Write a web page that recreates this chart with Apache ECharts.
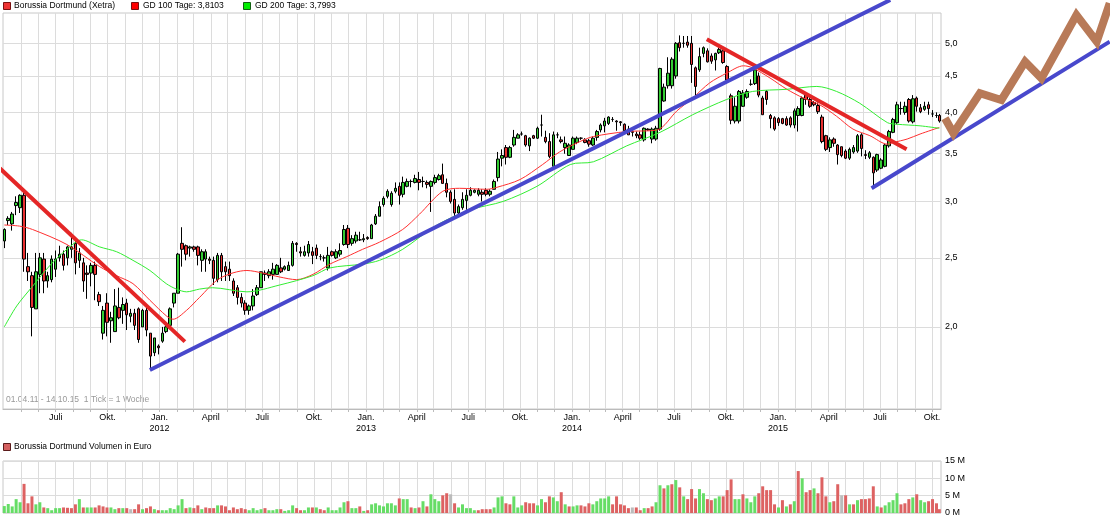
<!DOCTYPE html>
<html><head><meta charset="utf-8">
<script src="https://cdn.jsdelivr.net/npm/echarts@6.0.0/dist/echarts.min.js"></script>
<style>html,body{margin:0;padding:0;background:#fff}#c{width:1110px;height:522px}</style>
</head><body><div id="c"></div><script>
// ---- data ----
const firstWeek = '2011-04-01';   // weekly candles (week ending Friday)
const lastDay = '2015-10-14';     // last (partial) week
const ohlc = [ // [open, close, low, high]
[2.64,2.74,2.58,2.75],[2.82,2.84,2.78,2.86],[2.79,2.88,2.73,2.90],[2.96,2.99,2.87,3.05],[2.94,3.06,2.89,3.07],[3.06,2.49,2.39,3.12],[2.43,2.39,2.32,2.54],[2.36,2.13,1.94,2.39],[2.12,2.39,2.12,2.54],[2.37,2.50,2.23,2.54],
[2.49,2.32,2.23,2.54],[2.32,2.36,2.27,2.39],[2.33,2.49,2.31,2.52],[2.41,2.49,2.35,2.56],[2.50,2.53,2.47,2.60],[2.53,2.44,2.40,2.56],[2.50,2.59,2.44,2.60],[2.57,2.59,2.50,2.71],[2.62,2.46,2.37,2.67],[2.48,2.54,2.42,2.58],
[2.46,2.32,2.24,2.50],[2.38,2.37,2.19,2.44],[2.38,2.44,2.28,2.46],[2.44,2.37,2.18,2.47],[2.22,2.17,2.14,2.24],[1.96,2.11,1.92,2.14],[2.16,2.03,1.94,2.23],[2.04,2.06,1.90,2.10],[1.97,2.14,1.97,2.26],[2.13,2.06,2.05,2.27],
[2.11,2.15,2.02,2.20],[2.16,2.08,1.98,2.19],[2.07,2.09,2.03,2.12],[2.09,2.01,1.98,2.12],[2.12,1.92,1.90,2.13],[2.00,2.11,2.00,2.12],[2.11,1.98,1.94,2.13],[1.96,1.82,1.74,1.96],[1.84,1.93,1.82,1.93],[1.88,1.87,1.83,1.89],
[1.91,1.96,1.90,2.00],[1.97,2.00,1.96,2.02],[2.01,2.12,2.00,2.13],[2.16,2.23,2.13,2.23],[2.23,2.53,2.23,2.54],[2.62,2.57,2.43,2.76],[2.60,2.53,2.48,2.61],[2.58,2.59,2.51,2.60],[2.59,2.57,2.55,2.60],[2.59,2.52,2.44,2.60],
[2.48,2.55,2.39,2.57],[2.49,2.55,2.39,2.57],[2.49,2.48,2.45,2.51],[2.48,2.34,2.29,2.51],[2.33,2.52,2.31,2.54],[2.52,2.39,2.32,2.54],[2.43,2.39,2.32,2.47],[2.41,2.36,2.32,2.47],[2.32,2.23,2.21,2.34],[2.27,2.20,2.15,2.29],
[2.20,2.16,2.13,2.23],[2.16,2.11,2.08,2.18],[2.11,2.14,2.08,2.15],[2.14,2.21,2.11,2.26],[2.22,2.27,2.21,2.29],[2.27,2.39,2.27,2.39],[2.38,2.37,2.32,2.40],[2.36,2.39,2.34,2.41],[2.37,2.41,2.33,2.46],[2.37,2.44,2.37,2.45],
[2.42,2.39,2.38,2.50],[2.41,2.43,2.40,2.44],[2.40,2.44,2.40,2.47],[2.44,2.62,2.43,2.64],[2.62,2.61,2.55,2.63],[2.55,2.54,2.51,2.59],[2.52,2.55,2.51,2.60],[2.54,2.61,2.51,2.64],[2.55,2.52,2.45,2.59],[2.58,2.52,2.49,2.61],
[2.51,2.51,2.48,2.53],[2.50,2.50,2.47,2.52],[2.42,2.52,2.40,2.59],[2.55,2.52,2.51,2.56],[2.50,2.55,2.49,2.57],[2.53,2.56,2.51,2.62],[2.61,2.74,2.60,2.78],[2.75,2.61,2.58,2.78],[2.62,2.66,2.60,2.69],[2.64,2.69,2.62,2.72],
[2.65,2.65,2.64,2.72],[2.65,2.66,2.63,2.70],[2.67,2.66,2.65,2.68],[2.66,2.78,2.66,2.79],[2.79,2.86,2.78,2.88],[2.86,2.95,2.86,3.00],[2.97,3.03,2.95,3.05],[3.05,3.10,3.03,3.12],[2.97,3.08,2.95,3.10],[3.10,3.13,3.08,3.19],
[3.15,3.06,2.97,3.19],[3.07,3.19,3.04,3.25],[3.15,3.20,3.14,3.23],[3.20,3.20,3.14,3.22],[3.19,3.23,3.18,3.27],[3.22,3.19,3.11,3.30],[3.20,3.20,3.14,3.25],[3.19,3.17,3.13,3.21],[3.15,3.20,2.90,3.21],[3.19,3.24,3.17,3.27],
[3.22,3.26,3.21,3.28],[3.27,3.18,3.18,3.39],[3.18,3.09,3.04,3.23],[3.09,3.00,2.98,3.11],[3.02,2.89,2.86,3.12],[2.89,2.95,2.88,2.97],[2.94,3.02,2.92,3.09],[3.01,3.06,2.92,3.12],[3.06,3.11,3.05,3.14],[3.09,3.11,3.08,3.12],
[3.07,3.11,3.05,3.13],[3.09,3.07,3.00,3.12],[3.11,3.07,3.05,3.13],[3.07,3.10,3.05,3.12],[3.12,3.20,3.12,3.22],[3.24,3.44,3.20,3.52],[3.45,3.48,3.36,3.55],[3.57,3.46,3.38,3.60],[3.46,3.57,3.45,3.59],[3.60,3.69,3.58,3.78],
[3.68,3.72,3.68,3.74],[3.73,3.73,3.71,3.76],[3.71,3.60,3.58,3.72],[3.59,3.68,3.53,3.69],[3.71,3.68,3.67,3.72],[3.68,3.80,3.67,3.82],[3.84,3.84,3.70,3.97],[3.69,3.64,3.62,3.77],[3.64,3.47,3.45,3.74],[3.36,3.72,3.36,3.76],
[3.72,3.72,3.68,3.75],[3.66,3.64,3.62,3.70],[3.57,3.62,3.50,3.70],[3.48,3.60,3.48,3.62],[3.55,3.68,3.55,3.70],[3.63,3.68,3.61,3.70],[3.68,3.68,3.66,3.69],[3.66,3.63,3.62,3.68],[3.65,3.61,3.58,3.67],[3.60,3.68,3.59,3.70],
[3.69,3.76,3.65,3.78],[3.78,3.84,3.75,3.86],[3.83,3.89,3.75,3.93],[3.86,3.94,3.84,3.95],[3.91,3.91,3.88,3.94],[3.89,3.88,3.77,3.90],[3.88,3.87,3.83,3.89],[3.85,3.77,3.74,3.86],[3.79,3.72,3.72,3.83],[3.76,3.75,3.70,3.80],
[3.73,3.71,3.68,3.76],[3.72,3.68,3.66,3.76],[3.66,3.80,3.64,3.81],[3.79,3.78,3.77,3.80],[3.67,3.79,3.62,3.81],[3.67,3.80,3.65,3.83],[3.79,4.61,3.77,4.62],[4.15,4.34,4.14,4.39],[4.36,4.54,4.32,4.78],[4.36,4.75,4.32,4.78],
[4.50,5.00,4.46,5.02],[5.01,4.93,4.87,5.13],[5.00,5.00,4.93,5.12],[5.02,4.97,4.93,5.12],[5.00,4.67,4.40,5.12],[4.62,4.35,4.22,4.64],[4.59,4.79,4.56,4.93],[4.84,4.93,4.78,4.95],[4.88,4.71,4.70,4.92],[4.80,4.72,4.68,4.84],
[4.74,4.84,4.58,4.85],[4.85,4.90,4.83,4.93],[4.88,4.70,4.68,4.90],[4.64,4.44,4.40,4.66],[4.22,3.90,3.85,4.25],[3.89,4.08,3.86,4.20],[3.89,4.28,3.86,4.30],[4.08,4.26,4.07,4.30],[4.20,4.28,4.18,4.31],[4.38,4.38,4.36,4.45],
[4.39,4.59,4.37,4.62],[4.50,4.23,4.20,4.55],[4.19,3.97,3.97,4.22],[4.28,4.17,4.10,4.30],[3.96,3.92,3.80,3.98],[3.93,3.79,3.77,3.95],[3.92,3.87,3.83,3.94],[3.92,3.86,3.85,3.93],[3.92,3.84,3.83,3.95],[3.93,3.84,3.81,3.95],
[3.84,4.02,3.80,4.05],[3.96,4.05,3.76,4.08],[3.96,4.19,3.95,4.21],[4.23,4.17,4.10,4.26],[4.17,4.08,4.06,4.20],[4.13,4.10,4.08,4.15],[4.09,4.01,3.98,4.13],[3.94,3.64,3.62,3.97],[3.71,3.55,3.53,3.72],[3.57,3.66,3.52,3.69],
[3.67,3.62,3.58,3.69],[3.60,3.49,3.38,3.61],[3.58,3.48,3.46,3.58],[3.53,3.45,3.44,3.55],[3.45,3.55,3.43,3.57],[3.52,3.57,3.50,3.60],[3.53,3.71,3.51,3.73],[3.72,3.56,3.47,3.74],[3.49,3.48,3.44,3.54],[3.46,3.51,3.44,3.53],
[3.46,3.29,3.13,3.47],[3.32,3.49,3.30,3.50],[3.34,3.43,3.33,3.45],[3.36,3.60,3.35,3.61],[3.59,3.76,3.57,3.78],[3.75,3.91,3.74,3.93],[3.87,4.10,3.85,4.14],[4.05,4.05,3.97,4.14],[4.00,4.08,3.97,4.14],[4.17,3.89,3.87,4.19],
[3.88,4.18,3.86,4.23],[4.19,4.08,4.01,4.21],[4.06,4.01,3.99,4.11],[4.04,4.08,4.02,4.14],[4.10,4.05,3.97,4.14],[3.98,3.98,3.94,4.03],[3.96,3.96,3.93,4.00],[3.96,3.89,3.87,3.98]
];
const volume = [ // million euro per week
2.0,2.6,1.9,4.0,3.1,8.4,2.8,4.8,2.5,3.1, 1.6,1.4,0.8,1.4,1.4,1.6,1.5,1.4,2.5,4.0,
1.6,1.6,1.6,1.6,2.2,1.9,1.6,1.6,1.1,1.4, 1.4,1.4,1.1,1.1,2.5,1.1,1.4,1.9,1.1,0.8,
0.8,0.8,1.4,1.1,2.2,4.0,1.4,1.6,1.4,2.2, 1.1,1.6,1.4,1.4,2.2,2.2,1.9,0.8,1.6,1.1,
1.4,1.1,0.8,1.4,0.8,1.1,1.4,0.8,0.8,1.1, 1.1,0.6,0.8,2.2,1.4,0.8,0.8,1.6,1.6,1.6,
1.1,0.8,1.6,0.8,0.8,1.6,3.1,3.4,1.4,1.4, 1.9,0.6,0.8,2.5,2.8,2.2,1.9,2.8,2.8,2.2,
4.2,4.0,4.0,1.6,1.4,1.6,3.4,1.9,5.4,4.0, 3.4,5.1,5.7,5.4,2.8,1.6,2.5,1.4,1.4,0.8,
0.8,1.1,1.1,1.1,1.6,4.5,4.8,2.8,2.5,4.8, 1.6,2.2,3.1,2.8,2.8,2.2,4.0,3.1,4.8,4.5,
3.4,6.0,2.5,1.9,1.9,2.2,2.2,1.9,2.8,2.5, 3.4,4.2,4.2,4.8,2.5,4.8,2.5,2.2,1.4,1.6,
1.6,0.8,1.4,1.4,1.9,3.1,8.0,7.1,8.0,8.3, 9.5,7.4,4.8,4.0,6.9,4.2,6.9,5.7,4.0,3.7,
4.2,4.8,4.8,6.6,9.7,4.0,4.0,5.4,4.2,3.1, 4.8,5.7,7.7,6.6,6.6,2.5,1.6,3.7,1.9,2.5,
3.4,12.1,10.0,6.0,6.6,7.1,5.7,10.3,4.8,3.1, 3.4,8.3,5.1,5.1,2.5,2.5,3.7,4.0,4.0,4.2,
7.7,1.9,1.6,2.2,3.1,3.7,5.7,2.5,2.8,4.0, 4.5,5.4,3.7,3.1,3.4,4.0,2.8,1.1
];
// u = up week, d = down week, n = unchanged
const volumeDir =
'uuuuuddduu'+'duuuuddddu'+'duudddduud'+'udndduddud'+'uuuuuududd'+'uddduddddd'+
'dduuuuduuu'+'duuudduudu'+'dduuuuuduu'+'duduuuuuuu'+'duudududuu'+'uddnduuuuu'+
'dddduuuddu'+'uuddduuddu'+'ududuudddu'+'uuuudddddn'+'ddudduudud'+'ududdduudd'+
'uuddduuduu'+'udddddudud'+'ududdudddu'+'ddndududdd'+'duduuuuddd'+'uduudddd';
const gd100 = [
['2011-04-01',2.78],['2011-04-28',2.77],['2011-05-21',2.74],['2011-07-21',2.61],['2011-09-17',2.43],['2011-10-17',2.36],
['2011-11-15',2.30],['2011-12-15',2.18],['2012-01-14',2.07],['2012-01-25',2.05],['2012-02-18',2.11],['2012-03-12',2.20],
['2012-04-17',2.34],['2012-06-04',2.40],['2012-07-02',2.38],['2012-08-01',2.35],['2012-08-31',2.33],['2012-09-29',2.37],
['2012-10-29',2.45],['2012-11-28',2.51],['2012-12-26',2.57],['2013-01-25',2.63],['2013-03-07',2.74],['2013-04-06',2.88],
['2013-05-17',3.10],['2013-06-16',3.13],['2013-08-03',3.12],['2013-08-21',3.14],['2013-10-01',3.22],['2013-11-10',3.38],
['2013-12-10',3.52],['2014-01-15',3.64],['2014-02-08',3.70],['2014-04-08',3.76],['2014-06-01',3.78],['2014-07-06',4.02],
['2014-08-03',4.19],['2014-09-02',4.40],['2014-10-02',4.54],['2014-11-01',4.65],['2014-11-17',4.62],['2014-12-18',4.47],
['2015-01-17',4.31],['2015-02-15',4.19],['2015-03-16',4.10],['2015-04-15',3.95],['2015-05-14',3.79],['2015-06-13',3.71],
['2015-07-14',3.61],['2015-07-25',3.63],['2015-08-18',3.67],['2015-09-10',3.73],['2015-10-14',3.81]
];
const gd200 = [
['2011-04-01',2.00],['2011-04-23',2.14],['2011-05-21',2.28],['2011-06-21',2.44],['2011-07-21',2.57],['2011-08-16',2.65],
['2011-09-17',2.59],['2011-10-17',2.55],['2011-11-15',2.48],['2011-12-15',2.40],['2012-01-13',2.30],['2012-01-31',2.26],
['2012-02-18',2.24],['2012-03-12',2.26],['2012-04-04',2.27],['2012-06-04',2.24],['2012-08-01',2.29],['2012-09-29',2.36],
['2012-10-29',2.42],['2012-12-26',2.45],['2013-01-25',2.48],['2013-03-07',2.57],['2013-05-07',2.78],['2013-07-05',2.92],
['2013-09-01',3.00],['2013-10-31',3.15],['2013-12-29',3.38],['2014-02-08',3.41],['2014-04-08',3.59],['2014-06-06',3.75],
['2014-08-03',3.97],['2014-10-02',4.17],['2014-11-17',4.28],['2015-01-17',4.31],['2015-03-11',4.35],['2015-04-15',4.28],
['2015-05-26',4.12],['2015-07-14',3.87],['2015-07-31',3.85],['2015-09-10',3.83],['2015-10-14',3.80]
];
const trendDown1 = [['2011-03-24',3.339],['2012-02-15',1.907]];
const trendDown2 = [['2014-08-28',5.066],['2015-08-17',3.551]];
const trendUp1 = [['2011-12-15',1.740],['2015-07-19',5.752]];
const trendUp2 = [['2015-06-16',3.131],['2016-08-11',5.027]];
const projection = [['2015-10-24',3.925],['2015-11-08',3.739],['2015-12-25',4.255],['2016-02-01',4.164],['2016-03-14',4.712],
  ['2016-04-12',4.466],['2016-06-13',5.480],['2016-07-19',5.027],['2016-08-11',5.691]];
const priceTicks = [2.0,2.5,3.0,3.5,4.0,4.5,5.0];
const xTickLabels = [
['2011-07-01','Juli'],['2011-10-01','Okt.'],['2012-01-01','Jan.\n2012'],['2012-04-01','April'],['2012-07-01','Juli'],['2012-10-01','Okt.'],
['2013-01-01','Jan.\n2013'],['2013-04-01','April'],['2013-07-01','Juli'],['2013-10-01','Okt.'],['2014-01-01','Jan.\n2014'],['2014-04-01','April'],
['2014-07-01','Juli'],['2014-10-01','Okt.'],['2015-01-01','Jan.\n2015'],['2015-04-01','April'],['2015-07-01','Juli'],['2015-10-01','Okt.']
];
const legendTexts = ['Borussia Dortmund (Xetra)','GD 100 Tage: 3,8103','GD 200 Tage: 3,7993'];
const volumeTitle = 'Borussia Dortmund Volumen in Euro';
const rangeNote = '01.04.11 - 14.10.15  1 Tick = 1 Woche';

// ---- helpers ----
const ts = s => new Date(s + 'T00:00:00Z').getTime();
const DAY = 864e5;
const weeks = ohlc.map((_, i) => i === ohlc.length - 1 ? ts(lastDay) : ts(firstWeek) + i * 7 * DAY);
const monthTicks = [];
for (let y = 2011, m = 4; ; m++) {
  if (m > 11) { m = 0; y++; }
  if (y > 2015 || (y === 2015 && m > 9)) break;
  monthTicks.push(Date.UTC(y, m, 1));
}
const labelMap = {};
xTickLabels.forEach(([d, l]) => { labelMap[ts(d)] = l; });
const xMin = ts('2011-03-29') + 17 * 3600e3;
const xMax = ts('2015-10-17');
const PLOT_W = 938, FULL_W = 1107;
const xMaxFull = xMin + (xMax - xMin) * FULL_W / PLOT_W;  // same time scale, extended to the canvas edge
const yMin = 1.534, yMax = 5.515;
const FONT = 'Liberation Sans';
const col = { up: '#33cc33', down: '#e83030', vUp: '#66dd66', vDown: '#dd6262', vFlat: '#bbbbbb' };

const chart = echarts.init(document.getElementById('c'));
const gridLine = { show: true, lineStyle: { color: '#dcdcdc', width: 1 } };
const ov = (t) => t.map(p => [ts(p[0]), p[1]]);

chart.setOption({
  animation: false,
  backgroundColor: '#fff',
  textStyle: { fontFamily: FONT },
  grid: [
    { left: 3, top: 13, width: PLOT_W, height: 396, show: true, borderColor: '#c8c8c8', borderWidth: 1 },
    { left: 3, top: 461, width: PLOT_W, height: 52, show: true, borderColor: '#c8c8c8', borderWidth: 1 },
    { left: 3, top: 13, width: FULL_W, height: 396, show: false }
  ],
  xAxis: [
    { type: 'value', gridIndex: 0, min: xMin, max: xMax, scale: true,
      axisLine: { show: true, lineStyle: { color: '#bbbbbb' } },
      axisTick: { show: true, customValues: monthTicks, length: 3, lineStyle: { color: '#bbbbbb' } },
      splitLine: gridLine,
      axisLabel: { customValues: xTickLabels.map(d => ts(d[0])), formatter: v => labelMap[v] || '',
        fontSize: 9, color: '#000', margin: 3, lineHeight: 11, fontFamily: FONT, hideOverlap: false } },
    { type: 'value', gridIndex: 1, min: xMin, max: xMax, scale: true,
      axisLine: { show: false }, axisTick: { show: false, customValues: monthTicks },
      splitLine: gridLine, axisLabel: { show: false } },
    { type: 'value', gridIndex: 2, min: xMin, max: xMaxFull, scale: true, show: false, splitLine: { show: false } }
  ],
  yAxis: [
    { type: 'log', gridIndex: 0, position: 'right', min: yMin, max: yMax, logBase: 10,
      axisLine: { show: false }, axisTick: { show: false, customValues: priceTicks },
      splitLine: gridLine,
      axisLabel: { customValues: priceTicks, formatter: v => Number(v).toFixed(1).replace('.', ','),
        fontSize: 9, color: '#000', margin: 4, fontFamily: FONT } },
    { type: 'value', gridIndex: 1, position: 'right', min: 0, max: 15, interval: 5,
      axisLine: { show: false }, axisTick: { show: false }, splitLine: gridLine,
      axisLabel: { formatter: v => v + ' M', fontSize: 9, color: '#000', margin: 4, fontFamily: FONT } },
    { type: 'log', gridIndex: 2, min: yMin, max: yMax, logBase: 10, show: false, splitLine: { show: false } }
  ],
  series: [
    { type: 'candlestick', name: legendTexts[0], xAxisIndex: 0, yAxisIndex: 0, barWidth: 3, z: 2,
      data: ohlc.map((r, i) => [weeks[i], r[0], r[1], r[2], r[3]]),
      itemStyle: { color: col.up, color0: col.down, borderColor: '#000', borderColor0: '#000', borderWidth: 1 } },
    { type: 'line', name: legendTexts[1], data: ov(gd100), showSymbol: false, smooth: 0.3, z: 3,
      lineStyle: { color: '#ff3030', width: 1 } },
    { type: 'line', name: legendTexts[2], data: ov(gd200), showSymbol: false, smooth: 0.3, z: 3,
      lineStyle: { color: '#33ee33', width: 1 } },
    ...[trendDown1, trendDown2].map(t => ({ type: 'line', xAxisIndex: 2, yAxisIndex: 2, data: ov(t), showSymbol: false, clip: false, z: 5,
      lineStyle: { color: '#e42626', width: 4 } })),
    ...[trendUp1, trendUp2].map(t => ({ type: 'line', xAxisIndex: 2, yAxisIndex: 2, data: ov(t), showSymbol: false, clip: false, z: 5,
      lineStyle: { color: '#4848cc', width: 4 } })),
    { type: 'line', xAxisIndex: 2, yAxisIndex: 2, data: ov(projection), showSymbol: false, clip: false, z: 6,
      lineStyle: { color: '#b87a58', width: 8, join: 'miter' } },
    { type: 'bar', xAxisIndex: 1, yAxisIndex: 1, barWidth: 3,
      data: volume.map((v, i) => ({ value: [weeks[i], v],
        itemStyle: { color: volumeDir[i] === 'u' ? col.vUp : volumeDir[i] === 'd' ? col.vDown : col.vFlat } })) }
  ],
  graphic: [
    { type: 'rect', shape: { x: 3.5, y: 2.5, width: 7, height: 7 }, style: { fill: '#ee3333', stroke: '#7a1010', lineWidth: 1 } },
    { type: 'text', x: 14, y: 6, style: { text: legendTexts[0], font: '8.5px ' + FONT, fill: '#000', verticalAlign: 'middle' } },
    { type: 'rect', shape: { x: 131.5, y: 2.5, width: 7, height: 7 }, style: { fill: '#ff0000', stroke: '#7a1010', lineWidth: 1 } },
    { type: 'text', x: 143, y: 6, style: { text: legendTexts[1], font: '8.5px ' + FONT, fill: '#000', verticalAlign: 'middle' } },
    { type: 'rect', shape: { x: 243.5, y: 2.5, width: 7, height: 7 }, style: { fill: '#00ee00', stroke: '#106010', lineWidth: 1 } },
    { type: 'text', x: 255, y: 6, style: { text: legendTexts[2], font: '8.5px ' + FONT, fill: '#000', verticalAlign: 'middle' } },
    { type: 'text', x: 6, y: 400, style: { text: rangeNote, font: '8.5px ' + FONT, fill: '#999', verticalAlign: 'middle' } },
    { type: 'rect', shape: { x: 3.5, y: 443.5, width: 7, height: 7 }, style: { fill: '#d46060', stroke: '#5a1a1a', lineWidth: 1 } },
    { type: 'text', x: 14, y: 447, style: { text: volumeTitle, font: '8.5px ' + FONT, fill: '#000', verticalAlign: 'middle' } }
  ]
});
</script></body></html>
